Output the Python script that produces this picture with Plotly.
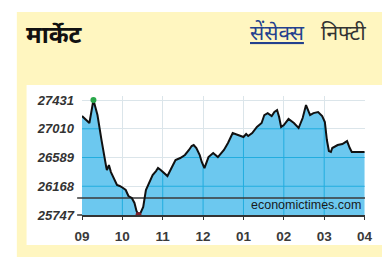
import numpy as np
import plotly.graph_objects as go

# ---- data ----
day = "2014-11-28"
times = ["09:00","09:11","09:17","09:23","09:29","09:33","09:36","09:37","09:40","09:43",
         "09:48","09:52","09:56","09:59","10:05","10:09","10:14","10:18","10:21","10:24",
         "10:27","10:31","10:35","10:40","10:42","10:45","10:50","10:53","10:57","11:03",
         "11:07","11:13","11:19","11:26","11:33","11:39","11:43","11:46","11:50","11:55",
         "11:58","12:02","12:05","12:08","12:15","12:22","12:31","12:37","12:44","12:51",
         "13:00","13:04","13:07","13:13","13:20","13:27","13:31","13:36","13:42","13:46",
         "13:50","13:53","13:56","14:00","14:07","14:15","14:22","14:28","14:33","14:39",
         "14:44","14:51","14:57","15:01","15:04","15:07","15:10","15:12","15:20","15:27",
         "15:34","15:38","15:41","16:00"]
sensex = [27197,27094,27431,27211,26845,26582,26450,26406,26479,26376,
          26260,26186,26172,26157,26113,26025,25996,25923,25806,25747,
          25776,25864,26113,26216,26260,26333,26391,26435,26406,26347,
          26318,26435,26552,26582,26626,26699,26757,26772,26728,26626,
          26523,26435,26523,26596,26655,26596,26699,26801,26948,26918,
          26889,26933,26904,26948,27036,27094,27211,27240,27197,27255,
          27284,27182,27036,27065,27153,27094,27021,27167,27358,27211,
          27240,27255,27197,27109,26845,26684,26670,26728,26772,26787,
          26830,26728,26670,26670]
prev_close = 25996
y_ticks = [25747, 26168, 26589, 27010, 27431]
x_ticks = ["09:00","10:00","11:00","12:00","13:00","14:00","15:00","16:00"]
title_text = "मार्केट"
tab_active = "सेंसेक्स"
tab_other = "निफ्टी"
source_text = "economictimes.com"

# ---- styling ----
FILL = "#6cc8ef"
GRID_IN = "#22addf"
GRID_OUT = "#dbe5ea"
YELLOW = "#fff6c0"
Y_RANGE = [25747, 27490]

xs = [f"{day} {t}" for t in times]
xr = [f"{day} {x_ticks[0]}", f"{day} {x_ticks[-1]}:40"]

def to_min(t):
    h, m = t.split(":")
    return int(h) * 60 + int(m)

tm = np.array([to_min(t) for t in times], dtype=float)
vals = np.array(sensex, dtype=float)

def min_to_str(mm):
    mm = int(round(mm))
    return f"{day} {mm // 60:02d}:{mm % 60:02d}"

fig = go.Figure()

# area fill
fig.add_trace(go.Scatter(x=xs, y=sensex, mode="lines", fill="tozeroy",
                         fillcolor=FILL, line=dict(width=0, color=FILL),
                         hoverinfo="skip", showlegend=False))

# gridlines seen through the fill (inside area only)
dense = np.arange(tm[0], tm[-1] + 1, 1.0)
dv = np.interp(dense, tm, vals)
for g in y_ticks[1:]:
    gx, gy = [], []
    for mm, v in zip(dense, dv):
        gx.append(min_to_str(mm))
        gy.append(g if v > g else None)
    fig.add_trace(go.Scatter(x=gx, y=gy, mode="lines", line=dict(color=GRID_IN, width=1),
                             hoverinfo="skip", showlegend=False, connectgaps=False))
vx, vy = [], []
for t in x_ticks[1:-1]:
    mm = to_min(t)
    top = float(np.interp(mm, tm, vals))
    vx += [f"{day} {t}", f"{day} {t}", None]
    vy += [Y_RANGE[0], top, None]
fig.add_trace(go.Scatter(x=vx, y=vy, mode="lines", line=dict(color=GRID_IN, width=1),
                         hoverinfo="skip", showlegend=False))

# previous close reference line
fig.add_trace(go.Scatter(x=xr, y=[prev_close, prev_close], mode="lines",
                         line=dict(color="#3a3a3a", width=1.5),
                         hoverinfo="skip", showlegend=False))

# price line
fig.add_trace(go.Scatter(x=xs, y=sensex, mode="lines",
                         line=dict(color="#111111", width=2),
                         showlegend=False))

# high / low markers
imax = int(np.argmax(vals)); imin = int(np.argmin(vals))
fig.add_trace(go.Scatter(x=[xs[imax]], y=[sensex[imax]], mode="markers",
                         marker=dict(color="#2aa84a", size=6), showlegend=False))
fig.add_trace(go.Scatter(x=[xs[imin]], y=[sensex[imin]], mode="markers",
                         marker=dict(color="#7a1f2a", size=6), showlegend=False))

W, H = 382, 259
L, R, T, B = 82, 373, 96, 215
pw, ph = R - L, B - T

def px_x(x):
    return (x - L) / pw

def px_y(y):
    return (B - y) / ph

shapes = [
    dict(type="rect", xref="paper", yref="paper", x0=px_x(15), x1=px_x(400),
         y0=px_y(257), y1=px_y(12), fillcolor=YELLOW, line=dict(width=0), layer="below"),
    dict(type="rect", xref="paper", yref="paper", x0=px_x(25), x1=px_x(400),
         y0=px_y(245), y1=px_y(85), fillcolor="white", line=dict(width=0), layer="below"),
    dict(type="line", xref="paper", yref="paper", x0=px_x(77), x1=0,
         y0=0, y1=0, line=dict(color="#333", width=1.5)),
    dict(type="line", xref="paper", yref="y", x0=px_x(77), x1=0,
         y0=prev_close, y1=prev_close, line=dict(color="#3a3a3a", width=1.5)),
]

annotations = [
    dict(text=f"<b>{title_text}</b>", xref="paper", yref="paper", x=px_x(22), y=px_y(33),
         xanchor="left", yanchor="middle", showarrow=False,
         font=dict(size=24, color="#111", family="Noto Sans, sans-serif")),
    dict(text=f"<u>{tab_active}</u>", xref="paper", yref="paper", x=px_x(253), y=px_y(32),
         xanchor="left", yanchor="middle", showarrow=False,
         font=dict(size=21, color="#23408e", family="Noto Sans, sans-serif")),
    dict(text=tab_other, xref="paper", yref="paper", x=px_x(326), y=px_y(32),
         xanchor="left", yanchor="middle", showarrow=False,
         font=dict(size=21, color="#333", family="Noto Sans, sans-serif")),
    dict(text=source_text, xref="paper", yref="paper", x=px_x(371), y=px_y(205),
         xanchor="right", yanchor="middle", showarrow=False,
         font=dict(size=12.5, color="#1a1a1a", family="Liberation Sans Narrow, Liberation Sans, Arial, sans-serif")),
]

fig.update_layout(
    width=W, height=H,
    margin=dict(l=L, r=W - R, t=T, b=H - B, pad=0),
    paper_bgcolor="white", plot_bgcolor="rgba(0,0,0,0)",
    shapes=shapes, annotations=annotations,
    showlegend=False,
    xaxis=dict(type="date", range=xr, tickvals=[f"{day} {t}" for t in x_ticks],
               tickformat="%I", showgrid=True, gridcolor=GRID_OUT, gridwidth=1,
               showline=True, linecolor="#333", linewidth=1.5,
               ticks="outside", ticklen=3, tickcolor="#333", ticklabelstandoff=5,
               ticklabeloverflow="allow",
               tickfont=dict(size=13.5, color="#3a3a3a", family="Liberation Sans, Arial, sans-serif",
                             weight="bold"),
               zeroline=False, fixedrange=True),
    yaxis=dict(range=Y_RANGE, tickvals=y_ticks, ticktext=[str(v) for v in y_ticks],
               showgrid=True, gridcolor=GRID_OUT, gridwidth=1, zeroline=False,
               ticks="", ticklabelstandoff=7,
               tickfont=dict(size=13, color="#333", family="Liberation Sans, Arial, sans-serif",
                             weight="bold", style="italic"),
               fixedrange=True),
)

fig.write_html("out.html", config={"displayModeBar": False},
               post_script="document.body.style.margin='0';document.body.style.overflow='hidden';")
